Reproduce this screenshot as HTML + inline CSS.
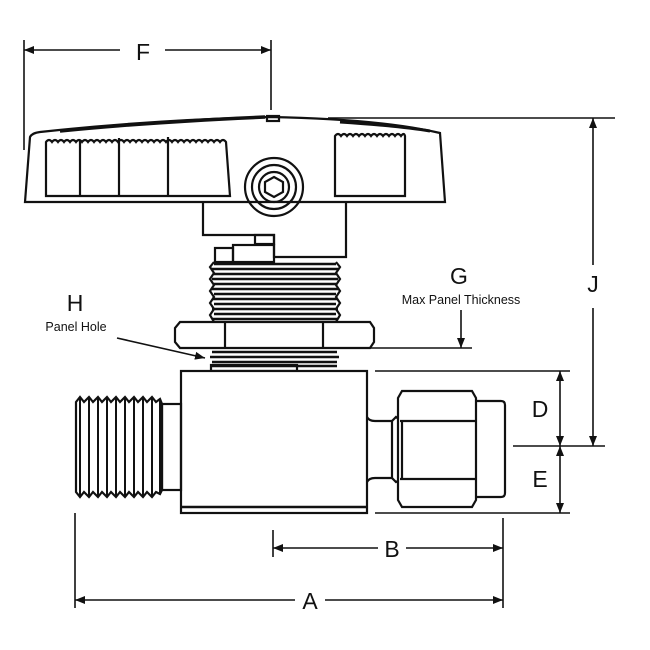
<!DOCTYPE html>
<html><head><meta charset="utf-8"><style>html,body{margin:0;padding:0;background:#fff}svg{display:block}text{font-family:"Liberation Sans",sans-serif;fill:#111}</style></head><body>
<svg width="650" height="650" viewBox="0 0 650 650" xmlns="http://www.w3.org/2000/svg">
<defs>
<marker id="ar" viewBox="0 0 10 10" refX="10" refY="5" markerWidth="10" markerHeight="10" orient="auto-start-reverse" markerUnits="userSpaceOnUse"><path d="M0,1 L10,5 L0,9z" fill="#111"/></marker>
</defs>
<g stroke="#111" stroke-width="2.2" fill="none">
<!-- handle -->
<path d="M25,202 L30,137 Q32,133 40,132 Q150,120 270,117 Q380,119 440,133 L445,202 Z" fill="#fff"/>
<path d="M60,131 Q150,122 265,117" stroke-width="3.5"/>
<path d="M340,122 Q400,126 430,131" stroke-width="3"/>
<path d="M46,196 L46,142 q3,-4 6,0 q3,-4 6,0 q3,-4 6,0 q3,-4 6,0 q3,-4 6,0 q3,-4 6,0 q3,-4 6,0 q3,-4 6,0 q3,-4 6,0 q3,-4 6,0 q3,-4 6,0 q3,-4 6,0 q3,-4 6,0 q3,-4 6,0 q3,-4 6,0 q3,-4 6,0 q3,-4 6,0 q3,-4 6,0 q3,-4 6,0 q3,-4 6,0 q3,-4 6,0 q3,-4 6,0 q3,-4 6,0 q3,-4 6,0 q3,-4 6,0 q3,-4 6,0 q3,-4 6,0 q3,-4 6,0 q3,-4 6,0 q3,-4 6,0 L230,196 Z"/>
<line x1="80" y1="140" x2="80" y2="196"/><line x1="119" y1="138" x2="119" y2="196"/><line x1="168" y1="137" x2="168" y2="196"/>
<path d="M335,196 L335,136 q3,-4 6,0 q3,-4 6,0 q3,-4 6,0 q3,-4 6,0 q3,-4 6,0 q3,-4 6,0 q3,-4 6,0 q3,-4 6,0 q3,-4 6,0 q3,-4 6,0 q3,-4 6,0 q3,-4 4,0 L405,196 Z"/>
<circle cx="274" cy="187" r="29"/><circle cx="274" cy="187" r="22"/><circle cx="274" cy="187" r="15"/>
<polygon points="274,177 283,182 283,192 274,197 265,192 265,182"/>
<rect x="267" y="116" width="12" height="5"/>
<!-- stem block -->
<path d="M203,202 L203,235 L274,235 L274,257 L346,257 L346,202"/>
<rect x="255" y="235" width="19" height="9"/>
<rect x="233" y="245" width="41" height="17"/>
<rect x="215" y="248" width="18" height="14"/>
<!-- upper threads -->
<g stroke-width="2.6">
<path d="M214,264 L336,264 M212,269 L338,269 M214,274 L336,274 M212,279 L338,279 M214,284 L336,284 M212,289 L338,289 M214,294 L336,294 M212,299 L338,299 M214,304 L336,304 M212,309 L338,309 M214,314 L336,314 M212,319 L338,319"/>
</g>
<path d="M214,262 L210,267 L214,273 L210,279 L214,285 L210,291 L214,297 L210,303 L214,309 L210,315 L214,322 M336,262 L340,267 L336,273 L340,279 L336,285 L340,291 L336,297 L340,303 L336,309 L340,315 L336,322"/>
<!-- nut -->
<path d="M180,322 L370,322 L374,328 L374,342 L370,348 L180,348 L175,342 L175,328 Z" fill="#fff"/>
<line x1="225" y1="323" x2="225" y2="347"/><line x1="323" y1="323" x2="323" y2="347"/>
<!-- lower threads -->
<g stroke-width="2.6"><path d="M212,352 L337,352 M210,357 L339,357 M212,362 L337,362 M212,366 L337,366"/></g>
<rect x="211" y="365" width="86" height="6"/>
<!-- body -->
<rect x="181" y="371" width="186" height="142" fill="#fff"/>
<line x1="181" y1="507" x2="367" y2="507" stroke-width="2.4"/>
<!-- left thread fitting -->
<rect x="162" y="404" width="19" height="86"/>
<path d="M76,402 L80,397 L84,402 L89,397 L93,402 L98,397 L102,402 L107,397 L111,402 L116,397 L120,402 L125,397 L129,402 L134,397 L138,402 L143,397 L147,402 L152,397 L156,402 L160,399 L162,404 L162,490 L160,494 L156,492 L152,497 L147,492 L143,497 L138,492 L134,497 L129,492 L125,497 L120,492 L116,497 L111,492 L107,497 L102,492 L98,497 L93,492 L89,497 L84,492 L80,497 L76,492 Z" fill="#fff"/>
<g stroke-width="2"><path d="M80,397 L80,497 M89,397 L89,497 M98,397 L98,497 M107,397 L107,497 M116,397 L116,497 M125,397 L125,497 M134,397 L134,497 M143,397 L143,497 M152,397 L152,497 M160,399 L160,494"/></g>
<!-- right fitting -->
<path d="M367,417 Q369,421 375,421 L392,421 L392,478 L375,478 Q369,478 367,482"/>
<path d="M392,421 L396,417 L400,420 L400,480 L396,482 L392,478"/>
<path d="M402,391 L472,391 L476,398 L476,500 L472,507 L402,507 L398,500 L398,398 Z" fill="#fff"/>
<line x1="400" y1="421" x2="476" y2="421"/><line x1="400" y1="479" x2="476" y2="479"/>
<line x1="402" y1="421" x2="402" y2="479"/>
<path d="M476,401 L501,401 Q505,401 505,405 L505,493 Q505,497 501,497 L476,497"/>
</g>
<!-- dimensions -->
<g stroke="#111" stroke-width="1.6" fill="none">
<line x1="24" y1="40" x2="24" y2="150"/><line x1="271" y1="40" x2="271" y2="110"/>
<line x1="24" y1="50" x2="120" y2="50" marker-start="url(#ar)"/><line x1="165" y1="50" x2="271" y2="50" marker-end="url(#ar)"/>
<line x1="328" y1="118" x2="615" y2="118"/><line x1="513" y1="446" x2="605" y2="446"/>
<line x1="593" y1="118" x2="593" y2="265" marker-start="url(#ar)"/><line x1="593" y1="308" x2="593" y2="446" marker-end="url(#ar)"/>
<line x1="375" y1="371" x2="570" y2="371"/><line x1="375" y1="513" x2="570" y2="513"/>
<line x1="560" y1="371" x2="560" y2="446" marker-start="url(#ar)" marker-end="url(#ar)"/>
<line x1="560" y1="446" x2="560" y2="513" marker-start="url(#ar)" marker-end="url(#ar)"/>
<line x1="337" y1="348" x2="472" y2="348"/>
<line x1="461" y1="310" x2="461" y2="348" marker-end="url(#ar)"/>
<line x1="117" y1="338" x2="205" y2="358" marker-end="url(#ar)"/>
<line x1="273" y1="530" x2="273" y2="557"/><line x1="503" y1="518" x2="503" y2="608"/><line x1="75" y1="513" x2="75" y2="608"/>
<line x1="273" y1="548" x2="378" y2="548" marker-start="url(#ar)"/><line x1="406" y1="548" x2="503" y2="548" marker-end="url(#ar)"/>
<line x1="75" y1="600" x2="295" y2="600" marker-start="url(#ar)"/><line x1="325" y1="600" x2="503" y2="600" marker-end="url(#ar)"/>
</g>
<g font-size="23">
<text x="143" y="60" text-anchor="middle">F</text>
<text x="593" y="292" text-anchor="middle">J</text>
<text x="540" y="417" text-anchor="middle">D</text>
<text x="540" y="487" text-anchor="middle">E</text>
<text x="392" y="557" text-anchor="middle">B</text>
<text x="310" y="609" text-anchor="middle">A</text>
<text x="459" y="284" text-anchor="middle">G</text>
<text x="75" y="311" text-anchor="middle">H</text>
</g>
<text x="461" y="304" font-size="12.5" text-anchor="middle">Max Panel Thickness</text>
<text x="76" y="331" font-size="12.5" text-anchor="middle">Panel Hole</text>
</svg>
</body></html>
